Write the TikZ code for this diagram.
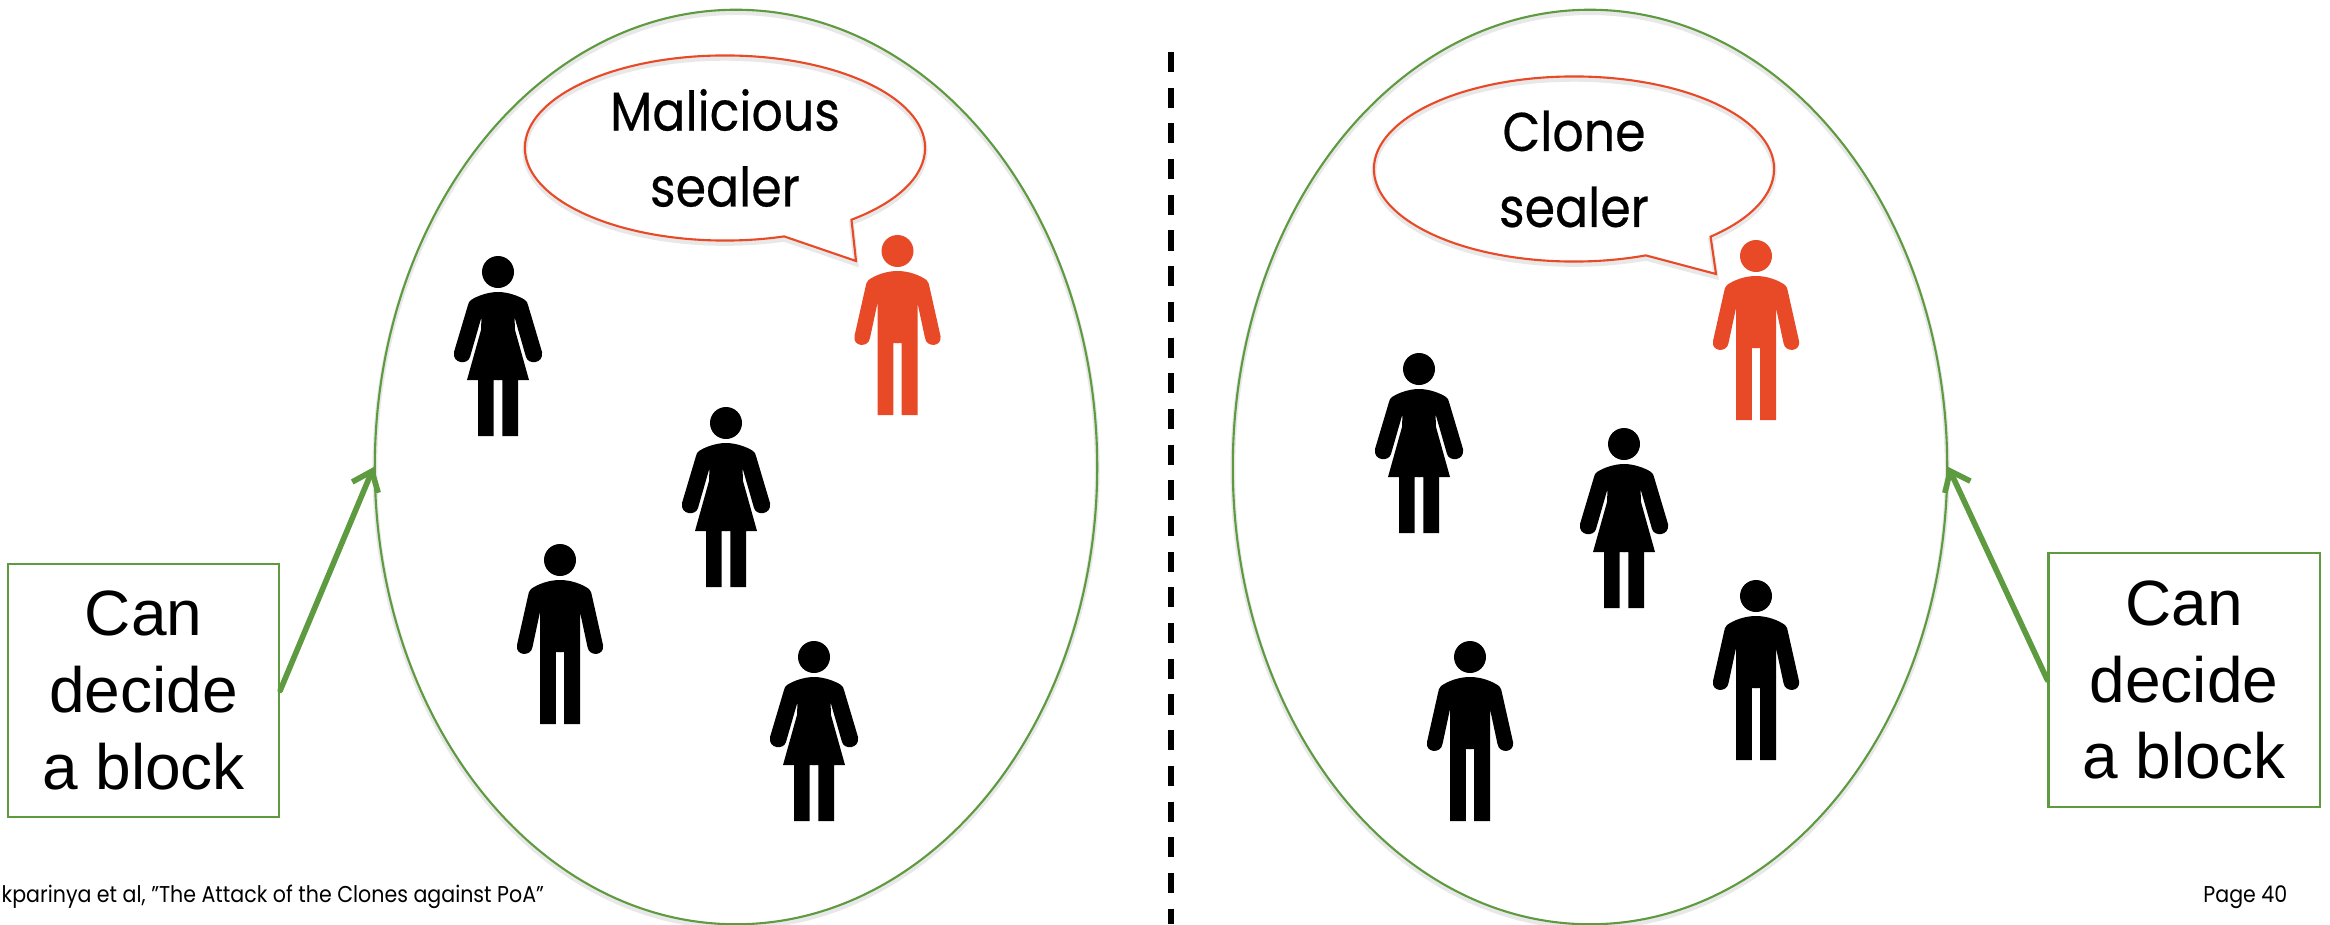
\documentclass[tikz,border=0pt]{standalone}
\usepackage{fontspec}
\setmainfont[FakeStretch=0.9]{Poppins}
\newfontfamily\sealfont[FakeStretch=0.9,FakeBold=0.4]{Poppins}
\newfontfamily\boxfont{Liberation Sans}
\usetikzlibrary{arrows.meta,shapes.geometric,shapes.callouts}
\definecolor{PoolGreen}{RGB}{94,154,64}
\definecolor{SealRed}{RGB}{232,74,39}
\tikzset{
	soft/.style={preaction={draw=black!9,line width=1.4pt,transform canvas={yshift=-0.8pt}}},
	pool/.style={ellipse,soft,draw=PoolGreen,line width=0.6pt,inner sep=0pt,minimum height=9.14cm},
	bubble/.style={ellipse callout,soft,draw=SealRed,line width=0.6pt,inner sep=0pt,callout pointer arc=22,
		minimum width=4cm,minimum height=1.85cm,align=center,font=\sealfont\fontsize{15.5}{21.6}\selectfont},
	note/.style={draw=PoolGreen,line width=0.6pt,inner sep=0pt,minimum height=2.53cm,minimum width=2.71cm,
		align=center,font=\boxfont\fontsize{18.2}{21.8}\selectfont},
	link/.style={draw=PoolGreen,line width=1.6pt,line cap=round,-{Straight Barb[length=5pt,width=8pt]}},
	small/.style={inner sep=0pt,font=\fontsize{6.5}{8}\selectfont},
	man/.pic={
		\foreach \s in {1,-1}
		\fill[xscale=\s] (0.5,20) -- (0,20) .. controls (-11,20) and (-22,24) .. (-29,29)
			.. controls (-31,31) and (-31.5,33) .. (-32,36) -- (-43,85)
			.. controls (-45,96) and (-29,97) .. (-27.5,87) -- (-20,52) -- (-20,164) -- (-4.2,164)
			-- (-4.2,92) -- (0.5,92) -- cycle;
		\fill (0,0) circle [radius=16];
	},
	woman/.pic={
		\foreach \s in {1,-1}
		\fill[xscale=\s] (0.5,20) -- (0,20) .. controls (-10,20) and (-21,24) .. (-27,28)
			.. controls (-29,29.5) and (-29.5,31) .. (-30,33) -- (-44,80)
			.. controls (-46,92) and (-30,93) .. (-28,85) -- (-16.5,45) -- (-17,58) -- (-31,108)
			-- (-20,108) -- (-20,164) -- (-4.3,164) -- (-4.3,108) -- (0.5,108) -- cycle;
		\fill (0,0) circle [radius=16];
	},
}
\begin{document}
\begin{tikzpicture}[x=0.01cm,y=-0.01cm]
	\useasboundingbox (0,0) rectangle (2330,924);
	\node[pool,minimum width=7.22cm] (poolL) at (736,467) {};
	\node[pool,minimum width=7.14cm] (poolR) at (1590,467) {};
	\coordinate (tipL) at (856,261);
	\coordinate (tipR) at (1716,274);
	\node[bubble,callout absolute pointer={(tipL)}] (sayL) at (725,148) {Malicious\\sealer};
	\node[bubble,callout absolute pointer={(tipR)}] (sayR) at (1574,169) {Clone\\sealer};
	\node[note] (noteL) at (143.5,690.5) {Can\\decide\\a block};
	\node[note] (noteR) at (2184,680) {Can\\decide\\a block};
	\draw[link] (noteL.east)--(poolL.west);
	\draw[link] (noteR.west)--(poolR.east);
	\coordinate (cutT) at (1171,52);
	\coordinate (cutB) at (1171,924);
	\draw[line width=1.5pt,dash pattern=on 5.7pt off 4.45pt] (cutT)--(cutB);
	\foreach \p/\q in {498/272,726/423,814/657,1419/369,1624/444}
	\pic at (\p,\q) {woman};
	\foreach \p/\q in {560/560,1470/657,1756/596}
	\pic at (\p,\q) {man};
	\foreach \p/\q in {897.5/251,1756/256}
	\pic[color=SealRed] at (\p,\q) {man};
	\node[small,anchor=base west] (cite) at (1,902) {kparinya et al, "The Attack of the Clones against PoA"};
	\node[small,anchor=base east] (page) at (2288,902) {Page 40};
\end{tikzpicture}
\end{document}
